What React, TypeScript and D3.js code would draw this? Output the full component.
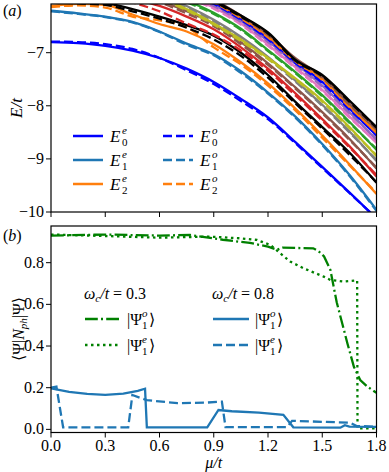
import React from "react";
import * as d3 from "d3";

// grid of chemical potential values for the spectra (panel a)
const muGrid = [0, 0.15, 0.3, 0.45, 0.6, 0.75, 0.9, 1.05, 1.2, 1.35, 1.5, 1.65, 1.8];

const levelColors = [
  "#0000ff", "#1f77b4", "#ff7f0e", "#000000", "#d62728", "#8c564b", "#7f7f7f",
  "#bcbd22", "#2ca02c", "#e377c2", "#9467bd", "#0000ff", "#ff7f0e", "#8c564b", "#000000",
];

// even parity levels E_n^e (solid)
const evenLevels = [
  [-6.80, -6.82, -6.87, -6.96, -7.10, -7.30, -7.55, -7.87, -8.22, -8.68, -9.15, -9.63, -10.12],
  [-6.21, -6.26, -6.32, -6.42, -6.60, -6.83, -7.03, -7.35, -7.75, -8.20, -8.72, -9.30, -9.96],
  [-6.12, -6.08, -6.10, -6.28, -6.46, -6.60, -6.84, -7.18, -7.58, -8.05, -8.56, -9.10, -9.66],
  [-6.05, -6.05, -6.07, -6.18, -6.32, -6.48, -6.68, -7.00, -7.42, -7.92, -8.40, -8.88, -9.45],
  [-5.70, -5.75, -5.85, -5.98, -6.12, -6.32, -6.56, -6.90, -7.30, -7.76, -8.25, -8.76, -9.33],
  [-5.60, -5.65, -5.72, -5.85, -6.02, -6.22, -6.46, -6.80, -7.20, -7.65, -8.12, -8.62, -9.18],
  [-5.50, -5.55, -5.62, -5.75, -5.92, -6.12, -6.38, -6.70, -7.08, -7.52, -7.98, -8.48, -9.04],
  [-5.45, -5.50, -5.60, -5.75, -5.95, -6.18, -6.45, -6.75, -7.10, -7.48, -7.90, -8.40, -8.95],
  [-5.30, -5.35, -5.45, -5.60, -5.85, -6.02, -6.25, -6.55, -6.95, -7.36, -7.80, -8.30, -8.83],
  [-5.20, -5.25, -5.35, -5.50, -5.75, -5.95, -6.15, -6.45, -6.85, -7.27, -7.70, -8.20, -8.70],
  [-5.10, -5.15, -5.25, -5.42, -5.68, -5.90, -6.10, -6.40, -6.78, -7.20, -7.62, -8.12, -8.64],
  [-5.00, -5.05, -5.15, -5.35, -5.60, -5.84, -6.06, -6.36, -6.73, -7.17, -7.55, -8.05, -8.56],
  [-4.95, -5.00, -5.10, -5.30, -5.55, -5.80, -6.03, -6.33, -6.69, -7.14, -7.49, -8.00, -8.51],
  [-4.90, -4.95, -5.05, -5.25, -5.50, -5.76, -6.00, -6.30, -6.65, -7.10, -7.45, -7.96, -8.45],
  [-4.85, -4.90, -5.00, -5.20, -5.45, -5.72, -6.01, -6.30, -6.62, -7.13, -7.42, -7.90, -8.40],
];

// odd parity levels E_n^o (dashed)
const oddLevels = [
  [-6.79, -6.80, -6.84, -6.93, -7.10, -7.33, -7.59, -7.91, -8.25, -8.70, -9.17, -9.64, -10.12],
  [-6.22, -6.27, -6.33, -6.43, -6.61, -6.85, -7.05, -7.38, -7.77, -8.22, -8.74, -9.32, -9.98],
  [-6.14, -6.11, -6.15, -6.32, -6.39, -6.52, -6.90, -7.22, -7.62, -8.08, -8.60, -9.12, -9.64],
  [-6.06, -6.07, -6.10, -6.22, -6.36, -6.53, -6.75, -7.06, -7.47, -7.95, -8.43, -8.92, -9.44],
  [-5.72, -5.78, -5.88, -6.05, -6.22, -6.45, -6.66, -6.96, -7.34, -7.80, -8.28, -8.78, -9.30],
  [-5.62, -5.67, -5.75, -5.88, -6.05, -6.26, -6.50, -6.84, -7.23, -7.67, -8.14, -8.64, -9.16],
  [-5.52, -5.57, -5.65, -5.78, -5.95, -6.15, -6.41, -6.73, -7.11, -7.54, -8.00, -8.50, -9.02],
  [-5.47, -5.52, -5.62, -5.78, -5.98, -6.20, -6.47, -6.78, -7.12, -7.50, -7.92, -8.42, -8.93],
  [-5.32, -5.37, -5.47, -5.62, -5.87, -6.05, -6.27, -6.57, -6.97, -7.38, -7.82, -8.32, -8.81],
  [-5.22, -5.27, -5.37, -5.52, -5.77, -5.97, -6.17, -6.47, -6.87, -7.29, -7.72, -8.22, -8.68],
  [-5.12, -5.17, -5.27, -5.44, -5.70, -5.92, -6.12, -6.42, -6.80, -7.22, -7.64, -8.14, -8.62],
  [-5.02, -5.07, -5.17, -5.37, -5.62, -5.86, -6.08, -6.38, -6.75, -7.19, -7.57, -8.07, -8.54],
  [-4.97, -5.02, -5.12, -5.32, -5.57, -5.82, -6.05, -6.35, -6.71, -7.16, -7.51, -8.02, -8.49],
  [-4.92, -4.97, -5.07, -5.27, -5.52, -5.78, -6.02, -6.32, -6.67, -7.12, -7.47, -7.98, -8.44],
  [-4.87, -4.92, -5.02, -5.22, -5.47, -5.74, -6.03, -6.32, -6.64, -7.15, -7.44, -7.92, -8.41],
];

// panel b: photon number, omega_c/t = 0.3
const muW03Odd = [0, 0.3, 0.6, 0.77, 0.95, 1.1, 1.2, 1.25, 1.28, 1.45, 1.48, 1.51, 1.545, 1.58, 1.64, 1.675, 1.71, 1.75, 1.8];
const nphW03Odd = [0.93, 0.935, 0.93, 0.933, 0.91, 0.895, 0.877, 0.862, 0.872, 0.869, 0.855, 0.83, 0.765, 0.61, 0.41, 0.3, 0.237, 0.205, 0.175];
const muW03Even = [0, 0.3, 0.6, 0.88, 1.047, 1.139, 1.213, 1.268, 1.323, 1.397, 1.508, 1.545, 1.618, 1.693, 1.695, 1.8];
const nphW03Even = [0.935, 0.928, 0.92, 0.925, 0.917, 0.909, 0.885, 0.845, 0.805, 0.773, 0.733, 0.717, 0.709, 0.715, 0.005, 0.005];

// panel b: photon number, omega_c/t = 0.8
const muW08Odd = [0, 0.1, 0.2, 0.3, 0.4, 0.48, 0.52, 0.53, 0.864, 0.926, 1.0, 1.15, 1.285, 1.34, 1.6, 1.625, 1.65, 1.8];
const nphW08Odd = [0.197, 0.18, 0.17, 0.166, 0.172, 0.185, 0.195, 0.01, 0.01, 0.093, 0.087, 0.08, 0.07, 0.01, 0.008, 0.02, 0.013, 0.012];
const muW08Even = [0, 0.03, 0.067, 0.427, 0.45, 0.53, 0.7, 0.85, 0.945, 0.965, 1.305, 1.333, 1.655, 1.69, 1.8];
const nphW08Even = [0.2, 0.205, 0.01, 0.01, 0.165, 0.14, 0.126, 0.128, 0.133, 0.011, 0.011, 0.041, 0.032, 0.016, 0.013];

const xTicks = [0, 0.3, 0.6, 0.9, 1.2, 1.5, 1.8];
const energyTicks = [-10, -9, -8, -7];
const nphTicks = [0, 0.2, 0.4, 0.6, 0.8];

const FONT = "Times New Roman, Liberation Serif, Noto Serif, DejaVu Serif, serif";
const DASHED = "9,4";
const DASHDOT = "12.8,3.2,2,3.2";
const DOTTED = "2.5,3.5";

const left = 51, right = 376.5;
const aTop = 4, aBottom = 212;
const bTop = 226, bBottom = 432.5;

const fmtMinus = (v: number) => (v < 0 ? `\u2212${Math.abs(v)}` : `${v}`);

export default function App() {
  const x = d3.scaleLinear().domain([0, 1.8]).range([left, right]);
  const yA = d3.scaleLinear().domain([-10, -6.083]).range([aBottom, aTop]);
  const yB = d3.scaleLinear().domain([-0.015, 0.976]).range([bBottom, bTop]);

  const levelLine = d3
    .line<number>()
    .x((_, i) => x(muGrid[i]))
    .y((d) => yA(d))
    .curve(d3.curveMonotoneX);

  const nphLine = (mus: number[], vals: number[]) =>
    d3
      .line<number>()
      .x((_, i) => x(mus[i]))
      .y((d) => yB(d))(vals) || "";

  // legend entry for E_n^p
  const energyLegend = (lx: number, ly: number, n: number, p: string, color: string, dash?: string) => (
    <g key={`${n}${p}`}>
      <line x1={lx} x2={lx + 30} y1={ly} y2={ly} stroke={color} strokeWidth={2.5} strokeDasharray={dash} />
      <text x={lx + 37} y={ly + 6} fontSize={17} fontStyle="italic">E</text>
      <text x={lx + 49} y={ly - 2} fontSize={11} fontStyle="italic">{p}</text>
      <text x={lx + 49} y={ly + 10} fontSize={11}>{n}</text>
    </g>
  );

  const psiLegend = (lx: number, ly: number, p: string, color: string, dash: string) => (
    <g>
      <line x1={lx} x2={lx + 36} y1={ly} y2={ly} stroke={color} strokeWidth={2.5} strokeDasharray={dash} />
      <text x={lx + 42} y={ly + 6} fontSize={16}>|Ψ</text>
      <text x={lx + 57} y={ly - 2} fontSize={11} fontStyle="italic">{p}</text>
      <text x={lx + 57} y={ly + 10} fontSize={11}>1</text>
      <text x={lx + 64} y={ly + 6} fontSize={16}>⟩</text>
    </g>
  );

  const omegaLabel = (lx: number, ly: number, val: string) => (
    <text x={lx} y={ly} fontSize={16}>
      <tspan fontStyle="italic">ω</tspan>
      <tspan fontStyle="italic" fontSize={11} dy={3}>c</tspan>
      <tspan fontStyle="italic" dy={-3}>/t</tspan>
      <tspan> = {val}</tspan>
    </text>
  );

  return (
    <svg
      width={389}
      height={472}
      style={{ position: "absolute", left: 0, top: 0, background: "#fff" }}
    >
      <g fontFamily={FONT}>
      <defs>
        <clipPath id="clipA">
          <rect x={left} y={aTop} width={right - left} height={aBottom - aTop} />
        </clipPath>
        <clipPath id="clipB">
          <rect x={left} y={bTop} width={right - left} height={bBottom - bTop} />
        </clipPath>
      </defs>

      {/* Panel (a): spectra */}
      <g clipPath="url(#clipA)" fill="none" strokeWidth={2.3}>
        {evenLevels.map((lv, i) => (
          <g key={i}>
            <path d={levelLine(lv) || ""} stroke={levelColors[i]} />
            <path d={levelLine(oddLevels[i]) || ""} stroke={levelColors[i]} strokeDasharray={DASHED} />
          </g>
        ))}
      </g>
      <rect x={left} y={aTop} width={right - left} height={aBottom - aTop} fill="none" stroke="#000" strokeWidth={1.2} />
      {energyTicks.map((t) => (
        <g key={t}>
          <line x1={left - 5} x2={left} y1={yA(t)} y2={yA(t)} stroke="#000" strokeWidth={1} />
          <text x={left - 7} y={yA(t) + 5} fontSize={16} textAnchor="end">{fmtMinus(t)}</text>
        </g>
      ))}
      {xTicks.map((t) => (
        <line key={t} x1={x(t)} x2={x(t)} y1={aBottom} y2={aBottom + 5} stroke="#000" strokeWidth={1} />
      ))}
      <text transform="translate(22,108) rotate(-90)" fontSize={17} textAnchor="middle" fontStyle="italic">E/t</text>
      <text x={3} y={16} fontSize={16}>(<tspan fontStyle="italic">a</tspan>)</text>

      {[0, 1, 2].map((n) => energyLegend(73, 136 + n * 24, n, "e", levelColors[n]))}
      {[0, 1, 2].map((n) => energyLegend(163, 136 + n * 24, n, "o", levelColors[n], DASHED))}

      {/* Panel (b): photon number */}
      <g clipPath="url(#clipB)" fill="none" strokeWidth={2.3}>
        <path d={nphLine(muW03Odd, nphW03Odd)} stroke="#008000" strokeDasharray={DASHDOT} />
        <path d={nphLine(muW03Even, nphW03Even)} stroke="#008000" strokeDasharray={DOTTED} />
        <path d={nphLine(muW08Odd, nphW08Odd)} stroke="#1f77b4" />
        <path d={nphLine(muW08Even, nphW08Even)} stroke="#1f77b4" strokeDasharray={DASHED} />
      </g>
      <rect x={left} y={bTop} width={right - left} height={bBottom - bTop} fill="none" stroke="#000" strokeWidth={1.2} />
      {nphTicks.map((t) => (
        <g key={t}>
          <line x1={left - 5} x2={left} y1={yB(t)} y2={yB(t)} stroke="#000" strokeWidth={1} />
          <text x={left - 7} y={yB(t) + 5} fontSize={16} textAnchor="end">{t.toFixed(1)}</text>
        </g>
      ))}
      {xTicks.map((t) => (
        <g key={t}>
          <line x1={x(t)} x2={x(t)} y1={bBottom} y2={bBottom + 5} stroke="#000" strokeWidth={1} />
          <text x={x(t)} y={451} fontSize={16} textAnchor="middle">{t.toFixed(1)}</text>
        </g>
      ))}
      <text x={(left + right) / 2} y={468} fontSize={16} textAnchor="middle" fontStyle="italic">μ/t</text>
      <text transform="translate(24,329) rotate(-90)" fontSize={16} textAnchor="middle">
        ⟨Ψ|<tspan fontStyle="italic">N</tspan>
        <tspan fontStyle="italic" fontSize={11} dy={3}>ph</tspan>
        <tspan dy={-3}>|Ψ⟩</tspan>
      </text>
      <text x={3} y={241} fontSize={16}>(<tspan fontStyle="italic">b</tspan>)</text>

      {omegaLabel(84, 299, "0.3")}
      {psiLegend(85, 319, "o", "#008000", DASHDOT)}
      {psiLegend(85, 345, "e", "#008000", DOTTED)}
      {omegaLabel(212, 299, "0.8")}
      {psiLegend(213, 319, "o", "#1f77b4", "")}
      {psiLegend(213, 345, "e", "#1f77b4", DASHED)}
      </g>
    </svg>
  );
}
